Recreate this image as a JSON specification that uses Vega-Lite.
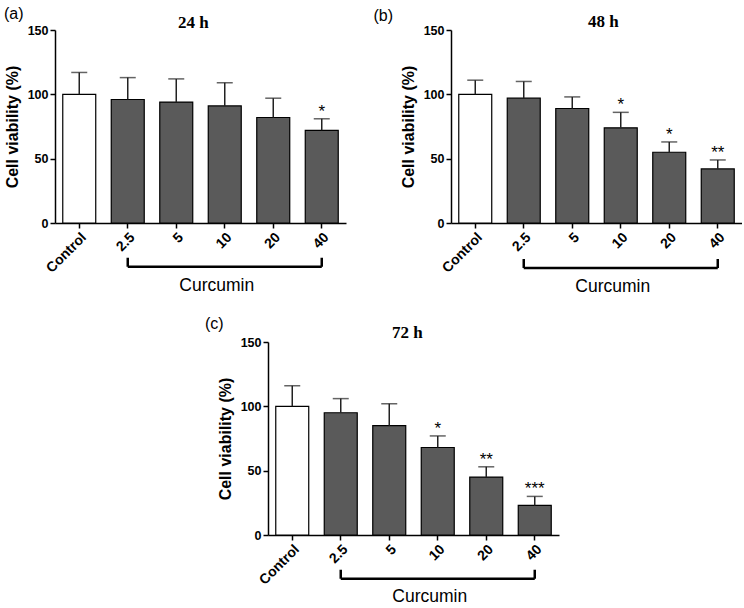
{
  "$schema": "https://vega.github.io/schema/vega-lite/v6.json",
  "padding": {"left": 3, "top": 5, "right": 0, "bottom": 0},
  "background": "white",
  "datasets": {
    "bars": [
      {"panel": "a", "dose": "Control", "type": "control", "viability": 100, "upper": 117, "sig": ""},
      {"panel": "a", "dose": "2.5", "type": "curcumin", "viability": 96, "upper": 113, "sig": ""},
      {"panel": "a", "dose": "5", "type": "curcumin", "viability": 94, "upper": 112, "sig": ""},
      {"panel": "a", "dose": "10", "type": "curcumin", "viability": 91, "upper": 109, "sig": ""},
      {"panel": "a", "dose": "20", "type": "curcumin", "viability": 82, "upper": 97, "sig": ""},
      {"panel": "a", "dose": "40", "type": "curcumin", "viability": 72, "upper": 81, "sig": "*"},
      {"panel": "b", "dose": "Control", "type": "control", "viability": 100, "upper": 111, "sig": ""},
      {"panel": "b", "dose": "2.5", "type": "curcumin", "viability": 97, "upper": 110, "sig": ""},
      {"panel": "b", "dose": "5", "type": "curcumin", "viability": 89, "upper": 98, "sig": ""},
      {"panel": "b", "dose": "10", "type": "curcumin", "viability": 74, "upper": 86, "sig": "*"},
      {"panel": "b", "dose": "20", "type": "curcumin", "viability": 55, "upper": 63, "sig": "*"},
      {"panel": "b", "dose": "40", "type": "curcumin", "viability": 42, "upper": 49, "sig": "**"},
      {"panel": "c", "dose": "Control", "type": "control", "viability": 100, "upper": 116, "sig": ""},
      {"panel": "c", "dose": "2.5", "type": "curcumin", "viability": 95, "upper": 106, "sig": ""},
      {"panel": "c", "dose": "5", "type": "curcumin", "viability": 85, "upper": 102, "sig": ""},
      {"panel": "c", "dose": "10", "type": "curcumin", "viability": 68, "upper": 77, "sig": "*"},
      {"panel": "c", "dose": "20", "type": "curcumin", "viability": 45, "upper": 53, "sig": "**"},
      {"panel": "c", "dose": "40", "type": "curcumin", "viability": 23, "upper": 30, "sig": "***"}
    ],
    "ends": [{"d": "2.5"}, {"d": "40"}],
    "one": [{}]
  },
  "vconcat": [
    {
      "hconcat": [
        {
          "width": 291, "height": 193,
          "layer": [
            {
              "data": {"name": "bars"}, "transform": [{"filter": "datum.panel == 'a'"}],
              "mark": {"type": "bar", "stroke": "black", "strokeWidth": 1.2},
              "encoding": {
                "x": {"field": "dose", "type": "nominal", "sort": ["Control", "2.5", "5", "10", "20", "40"], "scale": {"domain": ["Control", "2.5", "5", "10", "20", "40"], "paddingInner": 0.32, "paddingOuter": 0.16}, "axis": {"title": null, "labelAngle": -45, "labelFontSize": 14, "labelPadding": 2}},
                "y": {"field": "viability", "type": "quantitative", "scale": {"domain": [0, 150], "nice": false}, "axis": {"title": "Cell viability (%)", "values": [0, 50, 100, 150], "labelFontSize": 12.5, "titleFontSize": 16, "titlePadding": 7}},
                "fill": {"field": "type", "type": "nominal", "scale": {"domain": ["control", "curcumin"], "range": ["white", "#5a5a5a"]}, "legend": null}
              }
            },
            {
              "data": {"name": "bars"}, "transform": [{"filter": "datum.panel == 'a'"}],
              "mark": {"type": "rule", "color": "#222", "strokeWidth": 1.5},
              "encoding": {"x": {"field": "dose", "type": "nominal"}, "y": {"field": "viability", "type": "quantitative"}, "y2": {"field": "upper"}}
            },
            {
              "data": {"name": "bars"}, "transform": [{"filter": "datum.panel == 'a'"}],
              "mark": {"type": "tick", "color": "#222", "thickness": 1.5, "size": 16},
              "encoding": {"x": {"field": "dose", "type": "nominal"}, "y": {"field": "upper", "type": "quantitative"}}
            },
            {
              "data": {"name": "bars"}, "transform": [{"filter": "datum.panel == 'a'"}],
              "mark": {"type": "text", "font": "Liberation Sans", "fontSize": 17, "baseline": "alphabetic", "dy": -2, "color": "black"},
              "encoding": {"x": {"field": "dose", "type": "nominal"}, "y": {"field": "upper", "type": "quantitative"}, "text": {"field": "sig"}}
            },
            {
              "data": {"name": "one"},
              "mark": {"type": "rule", "color": "black", "strokeWidth": 2.5},
              "encoding": {"x": {"datum": "2.5", "type": "nominal"}, "x2": {"datum": "40"}, "y": {"datum": -34, "type": "quantitative"}}
            },
            {
              "data": {"name": "ends"},
              "mark": {"type": "rule", "color": "black", "strokeWidth": 2.5},
              "encoding": {"x": {"field": "d", "type": "nominal"}, "y": {"datum": -34, "type": "quantitative"}, "y2": {"datum": -27}}
            },
            {
              "data": {"name": "one"},
              "mark": {"type": "text", "text": "Curcumin", "font": "Liberation Sans", "fontSize": 17.5, "baseline": "middle", "dx": -8, "color": "black"},
              "encoding": {"x": {"datum": "10", "type": "nominal"}, "y": {"datum": -49, "type": "quantitative"}}
            },
            {
              "data": {"name": "one"},
              "mark": {"type": "text", "text": "(a)", "font": "Liberation Sans", "fontSize": 16, "baseline": "middle", "dx": -65.5, "color": "black"},
              "encoding": {"x": {"datum": "Control", "type": "nominal"}, "y": {"datum": 162.5, "type": "quantitative"}}
            },
            {
              "data": {"name": "one"},
              "mark": {"type": "text", "text": "24 h", "font": "Liberation Serif", "fontSize": 17, "fontWeight": "bold", "baseline": "alphabetic", "dx": 17, "color": "black"},
              "encoding": {"x": {"datum": "5", "type": "nominal"}, "y": {"datum": 151.5, "type": "quantitative"}}
            }
          ]
        },
        {
          "width": 291, "height": 193,
          "layer": [
            {
              "data": {"name": "bars"}, "transform": [{"filter": "datum.panel == 'b'"}],
              "mark": {"type": "bar", "stroke": "black", "strokeWidth": 1.2},
              "encoding": {
                "x": {"field": "dose", "type": "nominal", "sort": ["Control", "2.5", "5", "10", "20", "40"], "scale": {"domain": ["Control", "2.5", "5", "10", "20", "40"], "paddingInner": 0.32, "paddingOuter": 0.16}, "axis": {"title": null, "labelAngle": -45, "labelFontSize": 14, "labelPadding": 2}},
                "y": {"field": "viability", "type": "quantitative", "scale": {"domain": [0, 150], "nice": false}, "axis": {"title": "Cell viability (%)", "values": [0, 50, 100, 150], "labelFontSize": 12.5, "titleFontSize": 16, "titlePadding": 7}},
                "fill": {"field": "type", "type": "nominal", "scale": {"domain": ["control", "curcumin"], "range": ["white", "#5a5a5a"]}, "legend": null}
              }
            },
            {
              "data": {"name": "bars"}, "transform": [{"filter": "datum.panel == 'b'"}],
              "mark": {"type": "rule", "color": "#222", "strokeWidth": 1.5},
              "encoding": {"x": {"field": "dose", "type": "nominal"}, "y": {"field": "viability", "type": "quantitative"}, "y2": {"field": "upper"}}
            },
            {
              "data": {"name": "bars"}, "transform": [{"filter": "datum.panel == 'b'"}],
              "mark": {"type": "tick", "color": "#222", "thickness": 1.5, "size": 16},
              "encoding": {"x": {"field": "dose", "type": "nominal"}, "y": {"field": "upper", "type": "quantitative"}}
            },
            {
              "data": {"name": "bars"}, "transform": [{"filter": "datum.panel == 'b'"}],
              "mark": {"type": "text", "font": "Liberation Sans", "fontSize": 17, "baseline": "alphabetic", "dy": -2, "color": "black"},
              "encoding": {"x": {"field": "dose", "type": "nominal"}, "y": {"field": "upper", "type": "quantitative"}, "text": {"field": "sig"}}
            },
            {
              "data": {"name": "one"},
              "mark": {"type": "rule", "color": "black", "strokeWidth": 2.5},
              "encoding": {"x": {"datum": "2.5", "type": "nominal"}, "x2": {"datum": "40"}, "y": {"datum": -35, "type": "quantitative"}}
            },
            {
              "data": {"name": "ends"},
              "mark": {"type": "rule", "color": "black", "strokeWidth": 2.5},
              "encoding": {"x": {"field": "d", "type": "nominal"}, "y": {"datum": -35, "type": "quantitative"}, "y2": {"datum": -28}}
            },
            {
              "data": {"name": "one"},
              "mark": {"type": "text", "text": "Curcumin", "font": "Liberation Sans", "fontSize": 17.5, "baseline": "middle", "dx": -8, "color": "black"},
              "encoding": {"x": {"datum": "10", "type": "nominal"}, "y": {"datum": -50, "type": "quantitative"}}
            },
            {
              "data": {"name": "one"},
              "mark": {"type": "text", "text": "(b)", "font": "Liberation Sans", "fontSize": 16, "baseline": "middle", "dx": -92, "color": "black"},
              "encoding": {"x": {"datum": "Control", "type": "nominal"}, "y": {"datum": 161, "type": "quantitative"}}
            },
            {
              "data": {"name": "one"},
              "mark": {"type": "text", "text": "48 h", "font": "Liberation Serif", "fontSize": 17, "fontWeight": "bold", "baseline": "alphabetic", "dx": 31, "color": "black"},
              "encoding": {"x": {"datum": "5", "type": "nominal"}, "y": {"datum": 152, "type": "quantitative"}}
            }
          ]
        }
      ],
      "spacing": 27
    },
    {
      "hconcat": [
        {
          "width": 148, "height": 10,
          "data": {"name": "one"},
          "mark": {"type": "text", "text": ""},
          "encoding": {},
          "view": {"stroke": "transparent"}
        },
        {
          "width": 291, "height": 193,
          "layer": [
            {
              "data": {"name": "bars"}, "transform": [{"filter": "datum.panel == 'c'"}],
              "mark": {"type": "bar", "stroke": "black", "strokeWidth": 1.2},
              "encoding": {
                "x": {"field": "dose", "type": "nominal", "sort": ["Control", "2.5", "5", "10", "20", "40"], "scale": {"domain": ["Control", "2.5", "5", "10", "20", "40"], "paddingInner": 0.32, "paddingOuter": 0.16}, "axis": {"title": null, "labelAngle": -45, "labelFontSize": 14, "labelPadding": 2}},
                "y": {"field": "viability", "type": "quantitative", "scale": {"domain": [0, 150], "nice": false}, "axis": {"title": "Cell viability (%)", "values": [0, 50, 100, 150], "labelFontSize": 12.5, "titleFontSize": 16, "titlePadding": 7}},
                "fill": {"field": "type", "type": "nominal", "scale": {"domain": ["control", "curcumin"], "range": ["white", "#5a5a5a"]}, "legend": null}
              }
            },
            {
              "data": {"name": "bars"}, "transform": [{"filter": "datum.panel == 'c'"}],
              "mark": {"type": "rule", "color": "#222", "strokeWidth": 1.5},
              "encoding": {"x": {"field": "dose", "type": "nominal"}, "y": {"field": "viability", "type": "quantitative"}, "y2": {"field": "upper"}}
            },
            {
              "data": {"name": "bars"}, "transform": [{"filter": "datum.panel == 'c'"}],
              "mark": {"type": "tick", "color": "#222", "thickness": 1.5, "size": 16},
              "encoding": {"x": {"field": "dose", "type": "nominal"}, "y": {"field": "upper", "type": "quantitative"}}
            },
            {
              "data": {"name": "bars"}, "transform": [{"filter": "datum.panel == 'c'"}],
              "mark": {"type": "text", "font": "Liberation Sans", "fontSize": 17, "baseline": "alphabetic", "dy": -2, "color": "black"},
              "encoding": {"x": {"field": "dose", "type": "nominal"}, "y": {"field": "upper", "type": "quantitative"}, "text": {"field": "sig"}}
            },
            {
              "data": {"name": "one"},
              "mark": {"type": "rule", "color": "black", "strokeWidth": 2.5},
              "encoding": {"x": {"datum": "2.5", "type": "nominal"}, "x2": {"datum": "40"}, "y": {"datum": -34, "type": "quantitative"}}
            },
            {
              "data": {"name": "ends"},
              "mark": {"type": "rule", "color": "black", "strokeWidth": 2.5},
              "encoding": {"x": {"field": "d", "type": "nominal"}, "y": {"datum": -34, "type": "quantitative"}, "y2": {"datum": -27}}
            },
            {
              "data": {"name": "one"},
              "mark": {"type": "text", "text": "Curcumin", "font": "Liberation Sans", "fontSize": 17.5, "baseline": "middle", "dx": -8, "color": "black"},
              "encoding": {"x": {"datum": "10", "type": "nominal"}, "y": {"datum": -48, "type": "quantitative"}}
            },
            {
              "data": {"name": "one"},
              "mark": {"type": "text", "text": "(c)", "font": "Liberation Sans", "fontSize": 16, "baseline": "middle", "dx": -78, "color": "black"},
              "encoding": {"x": {"datum": "Control", "type": "nominal"}, "y": {"datum": 164, "type": "quantitative"}}
            },
            {
              "data": {"name": "one"},
              "mark": {"type": "text", "text": "72 h", "font": "Liberation Serif", "fontSize": 17, "fontWeight": "bold", "baseline": "alphabetic", "dx": 18, "color": "black"},
              "encoding": {"x": {"datum": "5", "type": "nominal"}, "y": {"datum": 153, "type": "quantitative"}}
            }
          ]
        }
      ],
      "spacing": 0
    }
  ],
  "spacing": 19,
  "config": {
    "view": {"stroke": null},
    "axis": {"domainColor": "black", "domainWidth": 1.5, "tickColor": "black", "tickWidth": 1.5, "tickSize": 5, "labelColor": "black", "labelFont": "Liberation Sans", "labelFontWeight": "bold", "titleFont": "Liberation Sans", "titleFontWeight": "bold", "titleColor": "black", "grid": false}
  }
}
